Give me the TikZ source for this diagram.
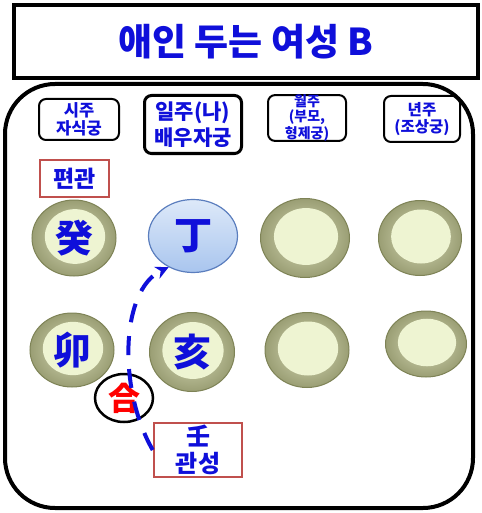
\documentclass[tikz,border=0pt]{standalone}
\usepackage{fontspec}
\setmainfont{Noto Sans CJK KR}[BoldFont={Noto Sans CJK KR Black}]
\usetikzlibrary{shapes.geometric,arrows.meta,calc}
\definecolor{txtblue}{HTML}{0F0FDA}
\definecolor{boxred}{HTML}{C0504D}
\definecolor{ringout}{HTML}{9A9E74}
\definecolor{ringmid}{HTML}{D8DBB8}
\definecolor{ringin}{HTML}{EEF4D2}
\definecolor{ringedge}{HTML}{7E8356}
\definecolor{jeongtop}{HTML}{DDE9F9}
\definecolor{jeongbot}{HTML}{A9C5EE}
\definecolor{jeongedge}{HTML}{5B7EBE}
\newcommand{\fsz}[2]{\fontsize{#1}{#2}\selectfont}
\tikzset{
  pillar/.style={draw,line width=2pt,rounded corners=7pt,align=center,text=txtblue,inner sep=0pt},
  redbox/.style={draw=boxred,line width=2.5pt,align=center,text=txtblue,inner sep=0pt},
  gan/.style={ellipse,draw=ringedge,line width=1pt,shading=radial,inner color=ringmid,outer color=ringout,
    text=txtblue,font=\bfseries\fsz{38}{40},inner sep=0pt,
    path picture={\path let \p1=($(path picture bounding box.north east)-(path picture bounding box.south west)$) in
      [fill=ringin] ([xshift=1pt,yshift=1.5pt]path picture bounding box.center) ellipse ({0.36*\x1} and {0.36*\y1});}},
}
\begin{document}
\begin{tikzpicture}[x=1pt,y=-1pt]
    \useasboundingbox (0,0) rectangle (481,513);
    \node[draw,line width=4pt,minimum width=464,minimum height=73,text=txtblue,font=\bfseries\fsz{37}{40}] (title) at (246,42) {애인 두는 여성 B};
    \node[draw,line width=4pt,rounded corners=50pt,minimum width=468,minimum height=424] (frame) at (239,296) {};
    % header
    \node[pillar,minimum width=80,minimum height=41,font=\bfseries\fsz{16.5}{18.5}] (hsi) at (79,119.5) {시주\\자식궁};
    \node[pillar,line width=3pt,minimum width=97,minimum height=58,font=\bfseries\fsz{21}{26}] (hil) at (193,124.5) {일주(나)\\배우자궁};
    \node[pillar,minimum width=78,minimum height=44,font=\bfseries\fsz{14}{15}] (hwol) at (307,118) {월주\\(부모,\\형제궁)};
    \node[pillar,minimum width=76,minimum height=46,font=\bfseries\fsz{15.5}{17.5}] (hnyeon) at (422,119) {년주\\(조상궁)};
    \node[redbox,minimum width=69,minimum height=37,font=\bfseries\fsz{23}{24}] (pyeon) at (74.5,178.5) {편관};
    % stems and branches
    \node[gan,minimum width=84,minimum height=76] (gye) at (74,238) {癸};
    \node[ellipse,draw=jeongedge,line width=1.2pt,top color=jeongtop,bottom color=jeongbot,text=txtblue,
      font=\bfseries\fsz{38}{40},inner sep=0pt,minimum width=89,minimum height=73] (jeong) at (193,236) {丁};
    \node[gan,minimum width=89,minimum height=79] (wol1) at (305,238) {};
    \node[gan,minimum width=83,minimum height=75] (nyeon1) at (420,238) {};
    \node[gan,minimum width=84,minimum height=74] (myo) at (72,350) {卯};
    \node[gan,minimum width=85,minimum height=79] (hae) at (192,352) {亥};
    \node[gan,minimum width=84,minimum height=75] (wol2) at (307,350) {};
    \node[gan,minimum width=81,minimum height=66] (nyeon2) at (426,344) {};
    \node[ellipse,draw,line width=2.5pt,minimum width=58,minimum height=48,inner sep=0pt,text=red,font=\bfseries\fsz{32}{34}] (hap) at (124,398) {合};
    \node[redbox,minimum width=88,minimum height=54,font=\bfseries\fsz{24}{27}] (gwan) at (198,450) {壬\\관성};
    \draw[txtblue,line width=4pt,dash pattern=on 19pt off 14pt,-{Stealth[length=13pt,width=13pt]}]
      (gwan.west) .. controls (118,390) and (120,290) .. (jeong.-128);
\end{tikzpicture}
\end{document}
